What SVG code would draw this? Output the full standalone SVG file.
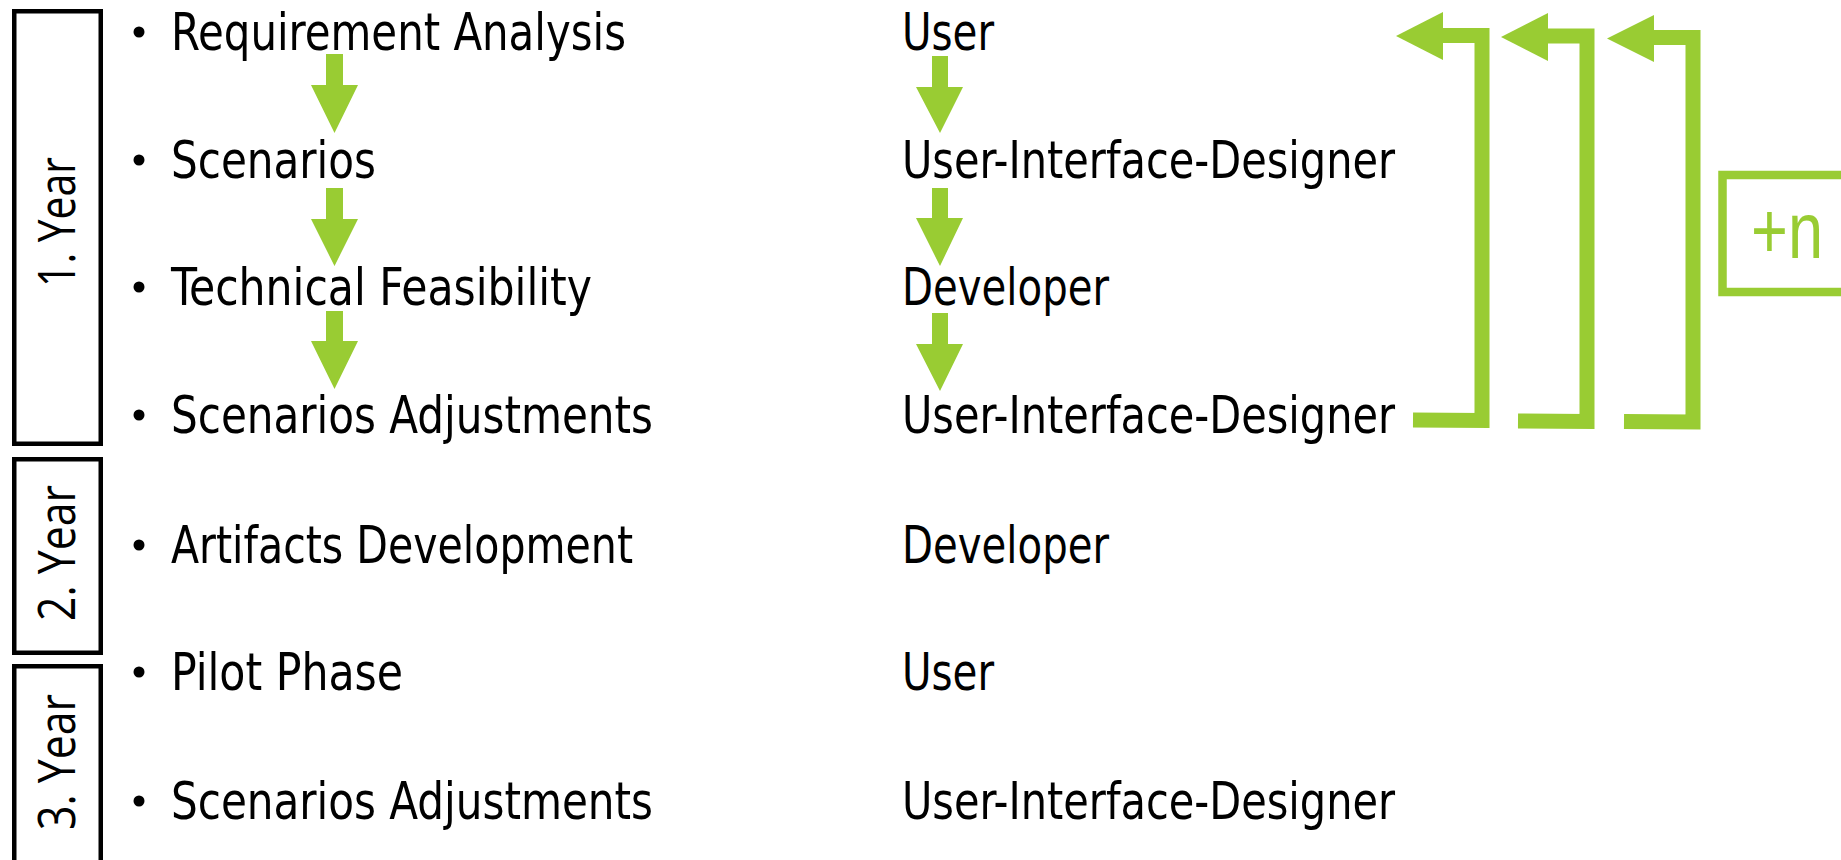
<svg xmlns="http://www.w3.org/2000/svg" width="1841" height="860" viewBox="0 0 1841 860">
<style>
.t{font-family:"Liberation Sans Narrow","DejaVu Sans Condensed","Liberation Sans",sans-serif;font-size:51px;fill:#000}
.yr{font-family:"Open Sans","Liberation Sans",sans-serif;font-size:52px;fill:#000}
.box{fill:none;stroke:#000;stroke-width:4.5}
.g{fill:#99CC33}
.loop{fill:none;stroke:#99CC33;stroke-width:15;stroke-linejoin:miter}
.b{fill:#000}
</style>
<rect width="1841" height="860" fill="#fff"/>
<g id="year1"><rect class="box" x="14.25" y="11.25" width="86.5" height="432.5"/><text class="yr" transform="translate(75,222) rotate(-90)" text-anchor="middle" textLength="130" lengthAdjust="spacingAndGlyphs">1. Year</text></g>
<g id="year2"><rect class="box" x="14.25" y="459.25" width="86.5" height="193.5"/><text class="yr" transform="translate(75,553) rotate(-90)" text-anchor="middle" textLength="136" lengthAdjust="spacingAndGlyphs">2. Year</text></g>
<g id="year3"><rect class="box" x="14.25" y="666.25" width="86.5" height="250"/><text class="yr" transform="translate(75,762) rotate(-90)" text-anchor="middle" textLength="136" lengthAdjust="spacingAndGlyphs">3. Year</text></g>
<g id="tasks">
<g id="t1"><circle class="b" cx="139" cy="32" r="5.5"/><text class="t" x="171" y="50" textLength="455" lengthAdjust="spacingAndGlyphs">Requirement Analysis</text></g>
<g id="t2"><circle class="b" cx="139" cy="160" r="5.5"/><text class="t" x="171" y="178" textLength="205" lengthAdjust="spacingAndGlyphs">Scenarios</text></g>
<g id="t3"><circle class="b" cx="139" cy="287" r="5.5"/><text class="t" x="171" y="305" textLength="421" lengthAdjust="spacingAndGlyphs">Technical Feasibility</text></g>
<g id="t4"><circle class="b" cx="139" cy="415" r="5.5"/><text class="t" x="171" y="433" textLength="482" lengthAdjust="spacingAndGlyphs">Scenarios Adjustments</text></g>
<g id="t5"><circle class="b" cx="139" cy="545" r="5.5"/><text class="t" x="171" y="563" textLength="462" lengthAdjust="spacingAndGlyphs">Artifacts Development</text></g>
<g id="t6"><circle class="b" cx="139" cy="672" r="5.5"/><text class="t" x="171" y="690" textLength="232" lengthAdjust="spacingAndGlyphs">Pilot Phase</text></g>
<g id="t7"><circle class="b" cx="139" cy="801" r="5.5"/><text class="t" x="171" y="819" textLength="482" lengthAdjust="spacingAndGlyphs">Scenarios Adjustments</text></g>
</g>
<g id="roles">
<g id="r1"><text class="t" x="902" y="50" textLength="92" lengthAdjust="spacingAndGlyphs">User</text></g>
<g id="r2"><text class="t" x="902" y="178" textLength="493" lengthAdjust="spacingAndGlyphs">User-Interface-Designer</text></g>
<g id="r3"><text class="t" x="902" y="305" textLength="207" lengthAdjust="spacingAndGlyphs">Developer</text></g>
<g id="r4"><text class="t" x="902" y="433" textLength="493" lengthAdjust="spacingAndGlyphs">User-Interface-Designer</text></g>
<g id="r5"><text class="t" x="902" y="563" textLength="207" lengthAdjust="spacingAndGlyphs">Developer</text></g>
<g id="r6"><text class="t" x="902" y="690" textLength="92" lengthAdjust="spacingAndGlyphs">User</text></g>
<g id="r7"><text class="t" x="902" y="819" textLength="493" lengthAdjust="spacingAndGlyphs">User-Interface-Designer</text></g>
</g>
<g id="plusn"><rect x="1722.5" y="175" width="125" height="117" fill="none" stroke="#99CC33" stroke-width="8.5"/><text x="1751" y="258" font-family="Liberation Sans,Arial,sans-serif" font-size="80" fill="#99CC33" textLength="72" lengthAdjust="spacingAndGlyphs">+n</text></g>
<g id="connectors">
<path class="g" d="M326,54 H343 V85 H358 L334.5,133 L311,85 H326 Z"/>
<path class="g" d="M326,188 H343 V219 H358 L334.5,266 L311,219 H326 Z"/>
<path class="g" d="M326,311 H343 V341 H358 L334.5,389 L311,341 H326 Z"/>
<path class="g" d="M932,56 H948 V87 H963 L940,133 L916,87 H932 Z"/>
<path class="g" d="M932,188 H948 V218 H963 L940,266 L916,218 H932 Z"/>
<path class="g" d="M932,313 H948 V344 H963 L940,391 L916,344 H932 Z"/>
<path class="loop" d="M1413,420 L1482,420.5 L1482,35.5 L1440,35.5"/>
<path class="g" d="M1443,12 L1443,60 L1396,36 Z"/>
<path class="loop" d="M1518,421 L1587,421.5 L1587,36 L1545,36"/>
<path class="g" d="M1548,13 L1548,61 L1501,37 Z"/>
<path class="loop" d="M1624,421.5 L1693,422 L1693,37.5 L1651,37.5"/>
<path class="g" d="M1654,15 L1654,62 L1607,38.5 Z"/>
</g>
</svg>
